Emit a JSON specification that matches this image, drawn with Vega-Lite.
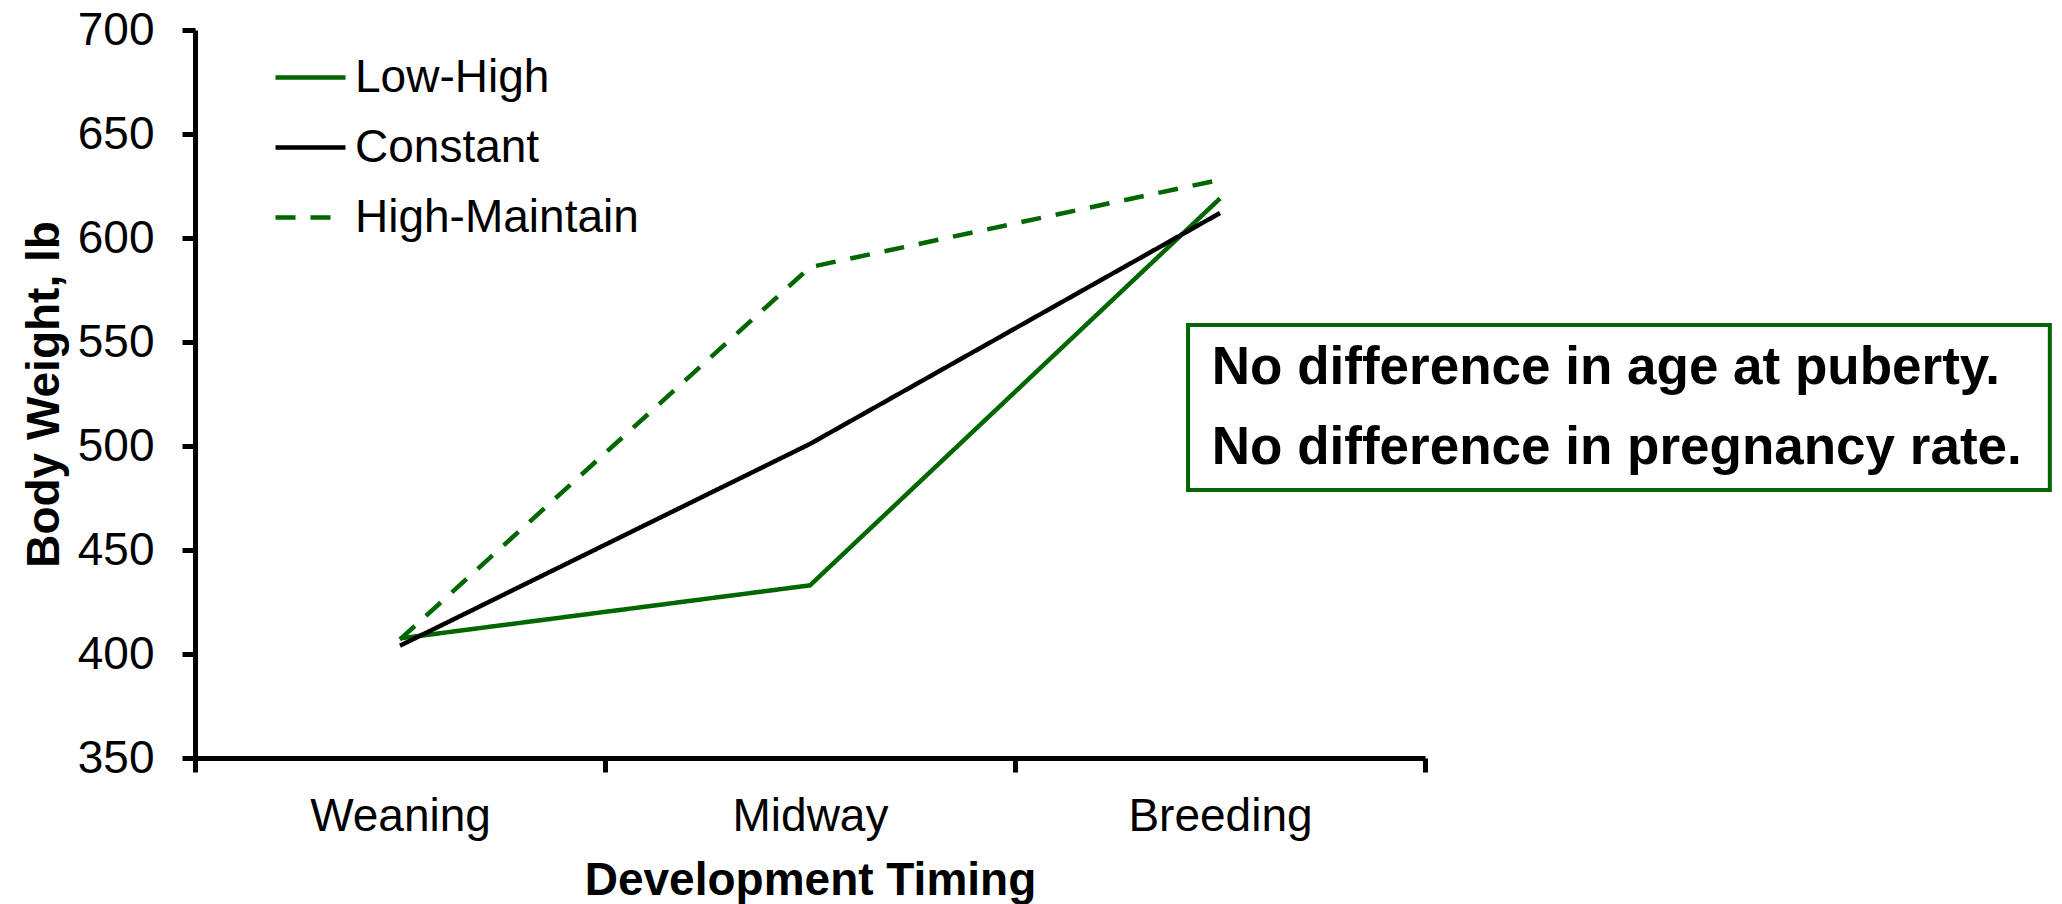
{
  "$schema": "https://vega.github.io/schema/vega-lite/v6.json",
  "width": 1230,
  "height": 728,
  "autosize": {"type": "none"},
  "padding": {"left": 195, "top": 30, "right": 637, "bottom": 146},
  "background": "white",
  "config": {"font": "Liberation Sans", "view": {"stroke": null}, "axis": {"grid": false, "labelLimit": 0}, "legend": {"labelLimit": 0}},
  "layer": [
    {
      "data": {"values": [
        {"timing": "Weaning", "group": "Low-High", "weight": 407.5},
        {"timing": "Midway", "group": "Low-High", "weight": 433},
        {"timing": "Breeding", "group": "Low-High", "weight": 619},
        {"timing": "Weaning", "group": "Constant", "weight": 404},
        {"timing": "Midway", "group": "Constant", "weight": 501},
        {"timing": "Breeding", "group": "Constant", "weight": 612},
        {"timing": "Weaning", "group": "High-Maintain", "weight": 407},
        {"timing": "Midway", "group": "High-Maintain", "weight": 586},
        {"timing": "Breeding", "group": "High-Maintain", "weight": 628}
      ]},
      "mark": {"type": "line", "strokeWidth": 4.5},
      "encoding": {
        "x": {
          "field": "timing", "type": "nominal",
          "sort": ["Weaning", "Midway", "Breeding"],
          "scale": {"type": "band", "paddingInner": 0, "paddingOuter": 0},
          "axis": {
            "title": "Development Timing", "labelAngle": 0, "tickBand": "extent",
            "labelFontSize": 46, "labelColor": "black", "labelPadding": 22, "labelLimit": 0,
            "titleFontSize": 46, "titleFontWeight": "bold", "titleColor": "black", "titlePadding": 19,
            "domainColor": "black", "domainWidth": 5, "tickColor": "black", "tickWidth": 5, "tickSize": 14
          }
        },
        "y": {
          "field": "weight", "type": "quantitative",
          "scale": {"domain": [350, 700], "nice": false, "zero": false},
          "axis": {
            "title": "Body Weight, lb", "values": [350, 400, 450, 500, 550, 600, 650, 700],
            "labelFontSize": 46, "labelColor": "black", "labelPadding": 28,
            "titleFontSize": 46, "titleFontWeight": "bold", "titleColor": "black", "titlePadding": 9,
            "domainColor": "black", "domainWidth": 5, "tickColor": "black", "tickWidth": 5, "tickSize": 13
          }
        },
        "color": {
          "field": "group", "type": "nominal",
          "scale": {"domain": ["Low-High", "Constant", "High-Maintain"], "range": ["#006600", "#000000", "#006600"]},
          "legend": {
            "title": null, "orient": "none", "legendX": 78, "legendY": 10, "padding": 0,
            "symbolType": "stroke", "symbolSize": 4900, "symbolStrokeWidth": 4.5,
            "labelFontSize": 46, "labelColor": "black", "labelOffset": 7, "rowPadding": 9, "labelLimit": 0
          }
        },
        "strokeDash": {
          "field": "group", "type": "nominal",
          "scale": {"domain": ["Low-High", "Constant", "High-Maintain"], "range": [[1, 0], [1, 0], [20, 15]]},
          "legend": {
            "title": null, "orient": "none", "legendX": 78, "legendY": 10, "padding": 0,
            "symbolType": "stroke", "symbolSize": 4900, "symbolStrokeWidth": 4.5,
            "labelFontSize": 46, "labelColor": "black", "labelOffset": 7, "rowPadding": 9, "labelLimit": 0
          }
        }
      }
    },
    {
      "data": {"values": [{}]},
      "layer": [
        {
          "mark": {"type": "rect", "fill": "white", "stroke": "#006600", "strokeWidth": 4},
          "encoding": {
            "x": {"datum": 2.922, "type": "quantitative", "scale": {"domain": [0.5, 3.5], "nice": false, "zero": false}, "axis": null},
            "x2": {"datum": 5.024},
            "y": {"datum": 558.2, "type": "quantitative", "scale": {"domain": [350, 700], "nice": false, "zero": false}},
            "y2": {"datum": 478.8}
          }
        },
        {
          "mark": {"type": "text", "align": "left", "baseline": "alphabetic", "fontSize": 53, "fontWeight": "bold", "color": "black", "text": "No difference in age at puberty."},
          "encoding": {
            "x": {"datum": 2.98, "type": "quantitative", "scale": {"domain": [0.5, 3.5], "nice": false, "zero": false}, "axis": null},
            "y": {"datum": 529.8, "type": "quantitative", "scale": {"domain": [350, 700], "nice": false, "zero": false}}
          }
        },
        {
          "mark": {"type": "text", "align": "left", "baseline": "alphabetic", "fontSize": 53, "fontWeight": "bold", "color": "black", "text": "No difference in pregnancy rate."},
          "encoding": {
            "x": {"datum": 2.98, "type": "quantitative", "scale": {"domain": [0.5, 3.5], "nice": false, "zero": false}, "axis": null},
            "y": {"datum": 491.4, "type": "quantitative", "scale": {"domain": [350, 700], "nice": false, "zero": false}}
          }
        }
      ]
    }
  ],
  "resolve": {"scale": {"x": "independent"}}
}
